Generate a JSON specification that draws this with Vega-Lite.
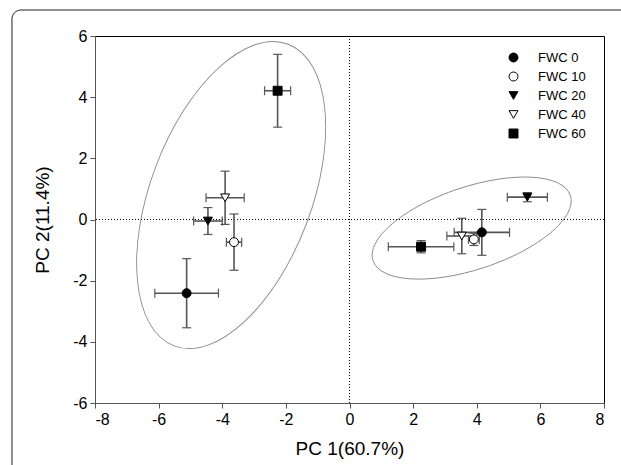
{
  "$schema": "https://vega.github.io/schema/vega-lite/v6.json",
  "autosize": {"type": "none"},
  "padding": {"left": 95, "top": 36, "right": 17, "bottom": 62},
  "width": 509,
  "height": 367,
  "background": "white",
  "config": {
    "view": {"stroke": "#000", "strokeWidth": 1},
    "font": "Liberation Sans",
    "axis": {"grid": false, "domainColor": "#555", "tickColor": "#555", "labelColor": "#000", "titleColor": "#000", "labelFont": "Liberation Sans", "titleFont": "Liberation Sans", "labelFontSize": 16, "titleFontSize": 19, "titleFontWeight": "normal", "tickSize": 5},
    "legend": {"labelFont": "Liberation Sans", "labelFontSize": 13, "labelColor": "#000"}
  },
  "datasets": {
    "pts": [
      {"g": "FWC 0", "x": -5.12, "y": -2.41, "ex": 1.0, "ey": 1.13},
      {"g": "FWC 10", "x": -3.63, "y": -0.74, "ex": 0.24, "ey": 0.92},
      {"g": "FWC 20", "x": -4.45, "y": -0.05, "ex": 0.45, "ey": 0.44},
      {"g": "FWC 40", "x": -3.91, "y": 0.71, "ex": 0.6, "ey": 0.87},
      {"g": "FWC 60", "x": -2.26, "y": 4.21, "ex": 0.41, "ey": 1.19},
      {"g": "FWC 0", "x": 4.16, "y": -0.42, "ex": 0.87, "ey": 0.75},
      {"g": "FWC 10", "x": 3.91, "y": -0.65, "ex": 0.17, "ey": 0.2},
      {"g": "FWC 20", "x": 5.59, "y": 0.73, "ex": 0.63, "ey": 0.15},
      {"g": "FWC 40", "x": 3.53, "y": -0.54, "ex": 0.47, "ey": 0.58},
      {"g": "FWC 60", "x": 2.25, "y": -0.89, "ex": 1.03, "ey": 0.2}
    ],
    "ellL": [{"x": -3.72, "y": 0.8}],
    "ellR": [{"x": 3.84, "y": -0.28}],
    "card": [{"x1": -10.61, "x2": 12, "y1": 6.85, "y2": -10}],
    "zero": [{"v": 0}]
  },
  "layer": [
    {
      "data": {"name": "card"},
      "mark": {"type": "rect", "fill": null, "fillOpacity": 0, "stroke": "#222", "strokeWidth": 1, "cornerRadius": 9},
      "encoding": {
        "x": {"field": "x1", "type": "quantitative", "title": "PC 1(60.7%)", "scale": {"domain": [-8, 8], "nice": false, "zero": false}, "axis": {"values": [-8, -6, -4, -2, 0, 2, 4, 6, 8], "titlePadding": 12, "labelPadding": 3, "labelExpr": "datum.value < 0 ? '-' + abs(datum.value) : '' + datum.value"}},
        "x2": {"field": "x2"},
        "y": {"field": "y1", "type": "quantitative", "title": "PC 2(11.4%)", "scale": {"domain": [-6, 6], "nice": false, "zero": false}, "axis": {"values": [-6, -4, -2, 0, 2, 4, 6], "titlePadding": 20, "labelPadding": 3, "labelExpr": "datum.value < 0 ? '-' + abs(datum.value) : '' + datum.value"}},
        "y2": {"field": "y2"}
      }
    },
    {
      "data": {"name": "zero"},
      "mark": {"type": "rule", "color": "#000", "strokeWidth": 1, "strokeDash": [1, 2]},
      "encoding": {"x": {"field": "v", "type": "quantitative", "title": "PC 1(60.7%)"}}
    },
    {
      "data": {"name": "zero"},
      "mark": {"type": "rule", "color": "#000", "strokeWidth": 1, "strokeDash": [1, 2]},
      "encoding": {"y": {"field": "v", "type": "quantitative", "title": "PC 2(11.4%)"}}
    },
    {
      "data": {"name": "ellL"},
      "mark": {"type": "point", "filled": false, "stroke": "#8a8a8a", "strokeWidth": 0.9, "opacity": 1, "size": 103943, "angle": 110.7,
        "shape": "M 1 0 C 1 0.2761 0.5523 0.5 0 0.5 C -0.5523 0.5 -1 0.2761 -1 0 C -1 -0.2761 -0.5523 -0.5 0 -0.5 C 0.5523 -0.5 1 -0.2761 1 0 Z"},
      "encoding": {"x": {"field": "x", "type": "quantitative", "title": "PC 1(60.7%)"}, "y": {"field": "y", "type": "quantitative", "title": "PC 2(11.4%)"}}
    },
    {
      "data": {"name": "ellR"},
      "mark": {"type": "point", "filled": false, "stroke": "#8a8a8a", "strokeWidth": 0.9, "opacity": 1, "size": 43181, "angle": 341.7,
        "shape": "M 1 0 C 1 0.2198 0.5523 0.398 0 0.398 C -0.5523 0.398 -1 0.2198 -1 0 C -1 -0.2198 -0.5523 -0.398 0 -0.398 C 0.5523 -0.398 1 -0.2198 1 0 Z"},
      "encoding": {"x": {"field": "x", "type": "quantitative", "title": "PC 1(60.7%)"}, "y": {"field": "y", "type": "quantitative", "title": "PC 2(11.4%)"}}
    },
    {
      "data": {"name": "pts"},
      "mark": {"type": "errorbar", "ticks": {"size": 9, "color": "#111", "thickness": 1.2}, "rule": {"color": "#555", "strokeWidth": 1.6}},
      "encoding": {
        "x": {"field": "x", "type": "quantitative", "title": "PC 1(60.7%)"},
        "y": {"field": "y", "type": "quantitative", "title": "PC 2(11.4%)"},
        "yError": {"field": "ey"}
      }
    },
    {
      "data": {"name": "pts"},
      "mark": {"type": "errorbar", "ticks": {"size": 9, "color": "#111", "thickness": 1.2}, "rule": {"color": "#555", "strokeWidth": 1.6}},
      "encoding": {
        "y": {"field": "y", "type": "quantitative", "title": "PC 2(11.4%)"},
        "x": {"field": "x", "type": "quantitative", "title": "PC 1(60.7%)"},
        "xError": {"field": "ex"}
      }
    },
    {
      "data": {"name": "pts"},
      "mark": {"type": "point", "strokeWidth": 1, "opacity": 1, "size": 80},
      "encoding": {
        "x": {"field": "x", "type": "quantitative", "title": "PC 1(60.7%)"},
        "y": {"field": "y", "type": "quantitative", "title": "PC 2(11.4%)"},
        "shape": {"field": "g", "type": "nominal", "scale": {"domain": ["FWC 0", "FWC 10", "FWC 20", "FWC 40", "FWC 60"], "range": ["circle", "circle", "triangle-down", "triangle-down", "square"]},
          "legend": {"title": null, "orient": "none", "legendX": 412, "legendY": 15, "rowPadding": 5, "labelOffset": 18, "symbolSize": 80, "symbolStrokeWidth": 1, "padding": 0}},
        "fill": {"field": "g", "type": "nominal", "scale": {"domain": ["FWC 0", "FWC 10", "FWC 20", "FWC 40", "FWC 60"], "range": ["#000", "#fff", "#000", "#fff", "#000"]}},
        "stroke": {"field": "g", "type": "nominal", "scale": {"domain": ["FWC 0", "FWC 10", "FWC 20", "FWC 40", "FWC 60"], "range": ["#000", "#000", "#000", "#000", "#000"]}}
      }
    }
  ]
}
